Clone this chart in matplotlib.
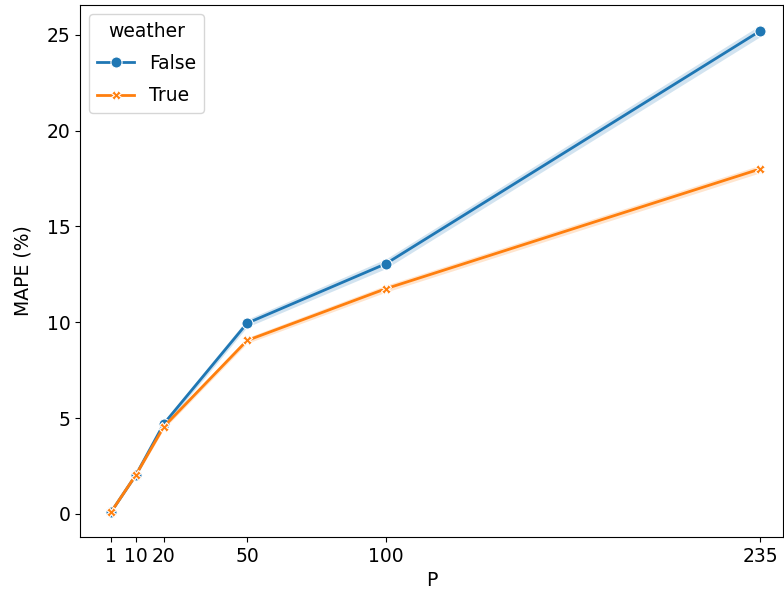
import numpy as np
import matplotlib.pyplot as plt

p_values = [1, 10, 20, 50, 100, 235]
mape_false = [0.1, 2.05, 4.7, 9.95, 13.05, 25.2]
mape_true = [0.1, 2.05, 4.55, 9.05, 11.75, 18.0]
band_false = [0.05, 0.1, 0.15, 0.2, 0.25, 0.3]
band_true = [0.05, 0.1, 0.12, 0.15, 0.18, 0.2]
x_ticks = [1, 10, 20, 50, 100, 235]

plt.rcParams['font.size'] = 13.5

fig = plt.figure(figsize=(7.84, 5.98), dpi=100)
ax = fig.add_axes([80 / 784, 61 / 598, 703 / 784, 532 / 598])

series = [
    ("False", mape_false, band_false, "#1f77b4", "o"),
    ("True", mape_true, band_true, "#ff7f0e", "X"),
]
for label, vals, band, color, marker in series:
    vals = np.array(vals)
    band = np.array(band)
    ax.fill_between(p_values, vals - band, vals + band, color=color, alpha=0.2, lw=0)
    ax.plot(p_values, vals, color=color, lw=2, marker=marker, ms=8 if marker == "o" else 7,
            mec="white", mew=0.8, label=label)

ax.set_xticks(x_ticks)
ax.set_xlim(-10.2, 243.2)
ax.set_ylim(-1.2, 26.55)
ax.set_xlabel("P")
ax.set_ylabel("MAPE (%)", labelpad=10)
ax.legend(title="weather", loc="upper left", title_fontsize=13.5, labelspacing=0.7)

fig.savefig("out.png", dpi=100)
